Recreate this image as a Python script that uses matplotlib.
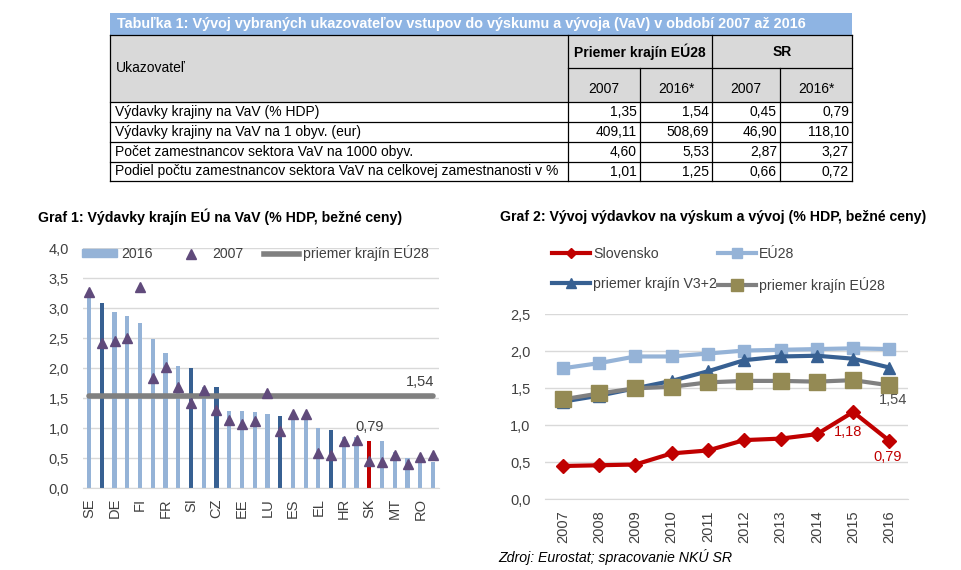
import matplotlib
matplotlib.use("Agg")
import matplotlib.pyplot as plt
from matplotlib.patches import Rectangle
from matplotlib.lines import Line2D
import numpy as np

plt.rcParams['font.family'] = ['Liberation Sans', 'DejaVu Sans']

# --- table data
table_title = "Tabuľka 1: Vývoj vybraných ukazovateľov vstupov do výskumu a vývoja (VaV) v období 2007 až 2016"
row_labels = ["Výdavky krajiny na VaV (% HDP)",
              "Výdavky krajiny na VaV na 1 obyv. (eur)",
              "Počet zamestnancov sektora VaV na 1000 obyv.",
              "Podiel počtu zamestnancov sektora VaV na celkovej zamestnanosti v %"]
group_labels = ["Priemer krajín EÚ28", "SR"]
year_labels = ["2007", "2016*", "2007", "2016*"]
eu_2007 = [1.35, 409.11, 4.60, 1.01]
eu_2016 = [1.54, 508.69, 5.53, 1.25]
sr_2007 = [0.45, 46.90, 2.87, 0.66]
sr_2016 = [0.79, 118.10, 3.27, 0.72]

# --- graf 1
countries = ['SE', 'AT', 'DE', 'DK', 'FI', 'BE', 'FR', 'NL', 'SI', 'UK', 'CZ', 'IT', 'EE', 'PT',
             'LU', 'HU', 'ES', 'IE', 'EL', 'PL', 'HR', 'LT', 'SK', 'BG', 'MT', 'CY', 'RO', 'LV']
rd_2016 = [3.25, 3.09, 2.94, 2.87, 2.75, 2.49, 2.25, 2.03, 2.00, 1.69, 1.68, 1.29, 1.28, 1.27,
           1.24, 1.21, 1.19, 1.18, 1.01, 0.97, 0.85, 0.85, 0.79, 0.78, 0.61, 0.50, 0.48, 0.44]
rd_2007 = [3.26, 2.42, 2.45, 2.51, 3.35, 1.84, 2.02, 1.69, 1.42, 1.63, 1.30, 1.13, 1.07, 1.12,
           1.58, 0.96, 1.23, 1.23, 0.58, 0.56, 0.79, 0.80, 0.45, 0.44, 0.55, 0.40, 0.52, 0.55]
v3_plus_2 = ['AT', 'SI', 'CZ', 'HU', 'PL']
eu28_avg_2016 = 1.54

# --- graf 2
years = ['2007', '2008', '2009', '2010', '2011', '2012', '2013', '2014', '2015', '2016']
slovensko = [0.45, 0.46, 0.47, 0.62, 0.66, 0.80, 0.82, 0.88, 1.18, 0.79]
eu28 = [1.77, 1.84, 1.93, 1.93, 1.97, 2.01, 2.02, 2.03, 2.04, 2.03]
v3_avg = [1.32, 1.40, 1.50, 1.60, 1.73, 1.88, 1.93, 1.94, 1.90, 1.78]
eu28_avg = [1.35, 1.43, 1.50, 1.52, 1.58, 1.60, 1.60, 1.59, 1.61, 1.54]

LIGHT = '#95B3D7'
DARK = '#376092'
RED = '#C00000'
GRID = '#D9D9D9'
TXT = '#404040'
FS = 10


def fmt(v):
    return f"{v:.2f}".replace('.', ',')


def fmt1(v, pos=None):
    return f"{v:.1f}".replace('.', ',')


W, H = 962, 570
fig = plt.figure(figsize=(W / 100, H / 100), dpi=100)

# base axes in pixel units for table and titles
base = fig.add_axes([0, 0, 1, 1])
base.set_xlim(0, W)
base.set_ylim(H, 0)
base.axis('off')

cols = [110, 568, 640, 712, 780, 852]
rows = [102, 122, 142, 162, 181]
base.add_patch(Rectangle((cols[0], 13), cols[-1] - cols[0], 22, color='#8EB4E3', lw=0))
base.add_patch(Rectangle((cols[0], 35), cols[-1] - cols[0], 67, color=GRID, lw=0))
base.text(cols[0] + 7, 24, table_title, color='white', fontweight='bold', fontsize=10.4, va='center')

lk = dict(color='black', lw=0.9)
base.plot([cols[0], cols[-1]], [35, 35], **lk)
base.plot([cols[1], cols[-1]], [68, 68], **lk)
for y in rows:
    base.plot([cols[0], cols[-1]], [y, y], **lk)
for x in [cols[0], cols[1], cols[3], cols[5]]:
    base.plot([x, x], [35, rows[-1]], **lk)
for x in [cols[2], cols[4]]:
    base.plot([x, x], [68, rows[-1]], **lk)

base.text(cols[0] + 6, 68, "Ukazovateľ", fontsize=FS, va='center')
base.text((cols[1] + cols[3]) / 2, 52, group_labels[0], fontsize=FS, fontweight='bold', ha='center', va='center')
base.text((cols[3] + cols[5]) / 2, 52, group_labels[1], fontsize=FS, fontweight='bold', ha='center', va='center')
for i, lab in enumerate(year_labels):
    base.text((cols[i + 1] + cols[i + 2]) / 2, 89, lab, fontsize=FS, ha='center', va='center')

for r, lab in enumerate(row_labels):
    yc = (rows[r] + rows[r + 1]) / 2
    base.text(cols[0] + 5, yc, lab, fontsize=FS, va='center')
    for c, series in enumerate([eu_2007, eu_2016, sr_2007, sr_2016]):
        base.text(cols[c + 2] - 3, yc, fmt(series[r]), fontsize=FS, ha='right', va='center')

# titles and source
base.text(38, 217, "Graf 1: Výdavky krajín EÚ na VaV (% HDP, bežné ceny)", fontsize=10.2, fontweight='bold', va='center')
base.text(500, 217, "Graf 2: Vývoj výdavkov na výskum a vývoj (% HDP, bežné ceny)", fontsize=10.2, fontweight='bold', va='center')
base.text(498, 557, "Zdroj: Eurostat; spracovanie NKÚ SR", fontsize=10.2, style='italic', va='center')

# --- Graf 1
ax1 = fig.add_axes([82.7 / W, (H - 488.3) / H, (439.4 - 82.7) / W, (488.3 - 248) / H])
x = np.arange(len(countries))
bar_colors = [RED if c == 'SK' else DARK if c in v3_plus_2 else LIGHT for c in countries]
ax1.bar(x, rd_2016, width=0.33, color=bar_colors, zorder=2)
ax1.plot([x[0], x[-1]], [eu28_avg_2016] * 2, color='#808080', lw=4, solid_capstyle='round', zorder=3)
ax1.plot(x, rd_2007, '^', color='#604A7B', ms=7, zorder=4)
ax1.set_xlim(-0.5, len(countries) - 0.5)
ax1.set_ylim(0, 4)
ax1.set_yticks(np.arange(0, 4.01, 0.5))
ax1.yaxis.set_major_formatter(plt.FuncFormatter(fmt1))
ax1.set_xticks(x[::2])
ax1.set_xticklabels(countries[::2], rotation=90)
ax1.tick_params(length=0, labelsize=10.5, labelcolor=TXT, pad=7)
ax1.tick_params(axis='y', pad=10)
ax1.grid(axis='y', color=GRID, lw=1, zorder=0)
for s in ['left', 'right', 'top']:
    ax1.spines[s].set_visible(False)
ax1.spines['bottom'].set_color(GRID)
sk = countries.index('SK')
ax1.text(x[sk], rd_2016[sk] + 0.12, fmt(rd_2016[sk]), ha='center', va='bottom', fontsize=10.5, color=TXT)
ax1.text(x[-1] - 1, eu28_avg_2016 + 0.12, fmt(eu28_avg_2016), ha='center', va='bottom', fontsize=10.5, color=TXT)

h1 = [Rectangle((0, 0), 1, 1, color=LIGHT),
      Line2D([], [], ls='none', marker='^', color='#604A7B', ms=7),
      Line2D([], [], color='#808080', lw=4)]
fig.legend(h1, ['2016', '2007', 'priemer krajín EÚ28'], loc='center left',
           bbox_to_anchor=(82 / W, 1 - 253 / H), ncol=3, frameon=False, fontsize=10.2,
           borderpad=0, borderaxespad=0, handlelength=2.5, handleheight=0.45,
           handletextpad=0.3, columnspacing=1.4, labelcolor=TXT)

# --- Graf 2
ax2 = fig.add_axes([544.6 / W, (H - 499.3) / H, (907.6 - 544.6) / W, 185 / H])
xi = np.arange(len(years))
l_sk, = ax2.plot(xi, slovensko, color=RED, lw=3, marker='D', ms=7, zorder=5)
l_eu, = ax2.plot(xi, eu28, color=LIGHT, lw=3, marker='s', ms=9, zorder=2)
l_v3, = ax2.plot(xi, v3_avg, color=DARK, lw=3, marker='^', ms=9, zorder=3)
l_av, = ax2.plot(xi, eu28_avg, color='#808080', lw=3, marker='s', ms=11,
                 mfc='#948A54', mec='#948A54', zorder=4)
ax2.set_xlim(-0.5, len(years) - 0.5)
ax2.set_ylim(0, 2.5)
ax2.set_yticks(np.arange(0, 2.51, 0.5))
ax2.yaxis.set_major_formatter(plt.FuncFormatter(fmt1))
ax2.set_xticks(xi)
ax2.set_xticklabels(years, rotation=90)
ax2.tick_params(length=0, labelsize=10.5, labelcolor=TXT, pad=8)
ax2.tick_params(axis='y', pad=10)
ax2.grid(axis='y', color=GRID, lw=1, zorder=0)
for s in ['left', 'right', 'top']:
    ax2.spines[s].set_visible(False)
ax2.spines['bottom'].set_color(GRID)
ax2.text(xi[-1] + 0.1, eu28_avg[-1] - 0.1, fmt(eu28_avg[-1]), ha='center', va='top', fontsize=10.5, color='#4D4D4D')
ax2.text(xi[-2] - 0.15, slovensko[-2] - 0.17, fmt(slovensko[-2]), ha='center', va='top', fontsize=10.5, color=RED)
ax2.text(xi[-1] - 0.05, slovensko[-1] - 0.13, fmt(slovensko[-1]), ha='center', va='top', fontsize=10.5, color=RED)

fig.legend([l_sk, l_v3, l_eu, l_av],
           ['Slovensko', 'priemer krajín V3+2', 'EÚ28', 'priemer krajín EÚ28'],
           loc='upper left', bbox_to_anchor=(552 / W, 1 - 247 / H), ncol=2, frameon=False,
           fontsize=10.2, borderpad=0, borderaxespad=0, handlelength=2.7, handletextpad=0.2,
           columnspacing=0.05, labelspacing=1.1, labelcolor=TXT, markerscale=0.8)

fig.savefig('out.png', dpi=100)
